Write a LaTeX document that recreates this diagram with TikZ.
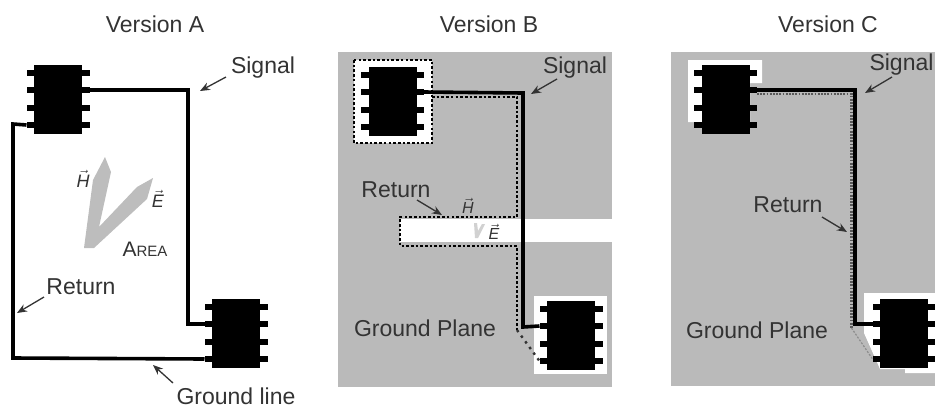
\documentclass[tikz,border=0pt]{standalone}
\usepackage{fontspec}
\setmainfont{Liberation Sans}
\usetikzlibrary{arrows.meta}
\definecolor{cPlane}{HTML}{BABABA}
\definecolor{cInk}{HTML}{333333}
\definecolor{cVee}{HTML}{BDBDBD}
\tikzset{
  label/.style={text=cInk,inner sep=0pt,font=\fontsize{23}{25}\selectfont},
  field/.style={text=cInk,inner sep=0pt,font=\fontsize{18}{19}\selectfont},
  fieldb/.style={text=cInk,inner sep=0pt,font=\fontsize{16}{17}\selectfont},
  body/.style={fill=black,draw=none,inner sep=0pt,minimum width=48,minimum height=69},
  pin/.style={fill=black,draw=none,inner sep=0pt,minimum width=63,minimum height=6.5},
  trace/.style={draw=black,line width=3.6pt,line join=miter},
  ret/.style={draw=black,line width=2.8pt,dash pattern=on 2.6pt off 2.1pt},
  retd/.style={draw=black!80,line width=2.4pt,dash pattern=on 2.5pt off 4.5pt},
  retc/.style={draw=black!65,line width=2.6pt,dash pattern=on 1.8pt off 1.4pt},
  rete/.style={draw=black!45,line width=1.2pt,dash pattern=on 2pt off 1.5pt},
  arr/.style={-{Stealth[length=10pt,width=8pt]},draw=cInk,line width=1.3pt},
  clear/.style={fill=white,draw=none},
  pics/chip/.style={code={
    \node[pin] (-p1) at (0,-26) {};
    \node[pin] (-p2) at (0,-9) {};
    \node[pin] (-p3) at (0,9) {};
    \node[pin] (-p4) at (0,26) {};
    \node[body] (-b) at (0,0) {};
    \coordinate (-l2) at (-31.5,-9);
    \coordinate (-l4) at (-31.5,26);
    \coordinate (-r2) at (31.5,-9);
  }}}
\begin{document}
\begin{tikzpicture}[x=1pt,y=-1pt]
  \useasboundingbox (0,0) rectangle (935,408);
  % version A
  \node[label] (ta) at (155,24) {Version A};
  \pic (a1) at (58,99) {chip};
  \pic (a2) at (236,333) {chip};
  \coordinate (a3) at (188,90);
  \coordinate (a4) at (188,324);
  \coordinate (a5) at (13,124);
  \coordinate (a6) at (13,358);
  \draw[trace] (a1-r2) -- (a3) -- (a4) -- (a2-l2);
  \draw[trace] (a1-l4) -- (a5) -- (a6) -- (a2-l4);
  \fill[cVee] (84,248) -- (93,180) -- (105,157) -- (111,172) -- (99,227) -- (137,187)
    -- (153,178) -- (147,199) -- (94,248) -- cycle;
  \node[field] (ha) at (83,179) {$\vec{\mathit{H}}$};
  \node[field] (ea) at (158,199) {$\vec{\mathit{E}}$};
  \node[inner sep=0pt,text=cInk] (aa) at (145,249)
    {\fontsize{21}{23}\selectfont A\fontsize{15}{17}\selectfont REA};
  \node[label] (sa) at (263,68) {Signal};
  \node[label] (ra) at (81,287) {Return};
  \node[label] (ga) at (236,396) {Ground line};
  \coordinate (sa1) at (226,77);
  \coordinate (sa2) at (200,91);
  \coordinate (ra1) at (44,297);
  \coordinate (ra2) at (17,313);
  \coordinate (ga1) at (173,383);
  \coordinate (ga2) at (153,365);
  \draw[arr] (sa1) -- (sa2);
  \draw[arr] (ra1) -- (ra2);
  \draw[arr] (ga1) -- (ga2);
  % version B
  \node[label] (tb) at (489,24) {Version B};
  \fill[cPlane] (338,52) rectangle (612,387);
  \fill[clear] (400,219) rectangle (612,242);
  \fill[clear] (354,60) rectangle (432,143);
  \fill[clear] (534,296) rectangle (607,374);
  \draw[ret] (354,60) rectangle (432,143);
  \pic (b1) at (392.5,101) {chip};
  \pic (b2) at (571,335) {chip};
  \coordinate (b3) at (523,93);
  \coordinate (b4) at (523,327);
  \coordinate (b5) at (432,97);
  \coordinate (b6) at (517,97);
  \coordinate (b7) at (517,217);
  \coordinate (b8) at (400,217);
  \coordinate (b9) at (400,246);
  \coordinate (b10) at (517,246);
  \coordinate (b11) at (517,330);
  \draw[ret] (b5) -- (b6) -- (b7) -- (b8) -- (b9) -- (b10) -- (b11);
  \draw[retd] (b11) -- (b2-l4);
  \draw[trace] (b1-r2) -- (b3) -- (b4) -- (b2-l2);
  \fill[black!18] (474,223) -- (477,223) -- (478,231) -- (482,224) -- (485,224)
    -- (478,238) -- (475,238) -- cycle;
  \node[fieldb] (hb) at (468,206) {$\vec{\mathit{H}}$};
  \node[fieldb] (eb) at (494,232) {$\vec{\mathit{E}}$};
  \node[label] (sb) at (575,68) {Signal};
  \node[label] (rb) at (396,190) {Return};
  \node[label] (gb) at (425,328) {Ground Plane};
  \coordinate (sb1) at (557,79);
  \coordinate (sb2) at (531,94);
  \coordinate (rb1) at (417,200);
  \coordinate (rb2) at (442,215);
  \draw[arr] (sb1) -- (sb2);
  \draw[arr] (rb1) -- (rb2);
  % version C
  \node[label] (tc) at (828,24) {Version C};
  \fill[cPlane] (671,52) rectangle (935,386);
  \fill[clear] (688,60) -- (762,60) -- (762,83) -- (750,83) -- (750,122) -- (688,122) -- cycle;
  \fill[clear] (864,293) -- (935,293) -- (935,373) -- (905,373) -- (905,369) -- (880,369)
    -- (876,360) -- (864,333) -- cycle;
  \pic (c1) at (725.5,99) {chip};
  \pic (c2) at (904,333) {chip};
  \coordinate (c3) at (855,90);
  \coordinate (c4) at (855,324);
  \coordinate (c5) at (851.5,94);
  \coordinate (c6) at (851.5,328);
  \coordinate (c7) at (757,94);
  \draw[retc] (c7) -- (c5) -- (c6);
  \draw[rete] (c6) -- (c2-l4);
  \draw[trace] (c1-r2) -- (c3) -- (c4) -- (c2-l2);
  \node[label] (sc) at (901.5,65) {Signal};
  \node[label] (rc) at (788,205) {Return};
  \node[label] (gc) at (757,330) {Ground Plane};
  \coordinate (sc1) at (892,77);
  \coordinate (sc2) at (865,93);
  \coordinate (rc1) at (822,217);
  \coordinate (rc2) at (847,232);
  \draw[arr] (sc1) -- (sc2);
  \draw[arr] (rc1) -- (rc2);
\end{tikzpicture}
\end{document}
